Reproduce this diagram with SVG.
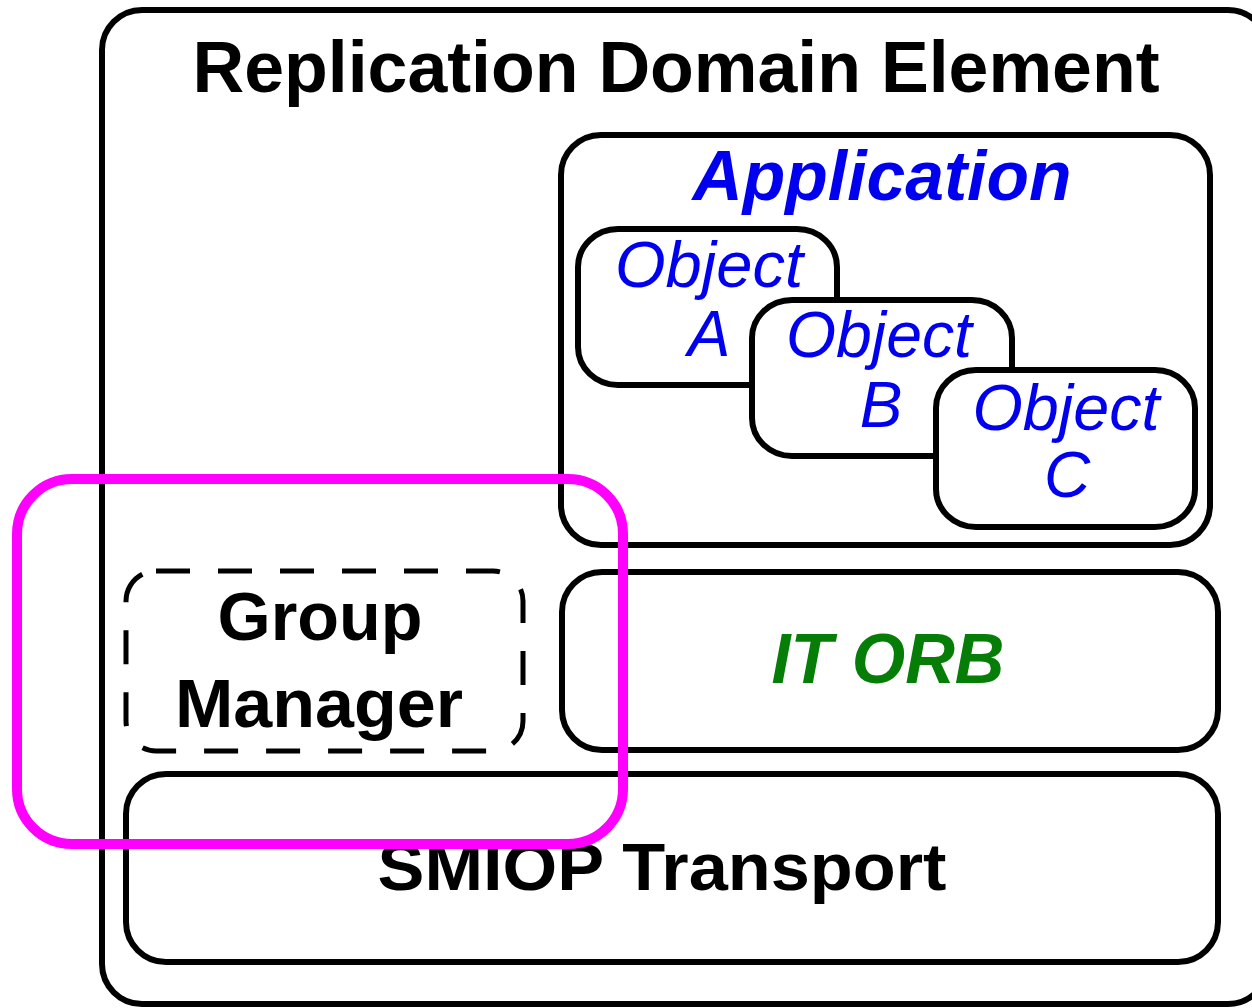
<svg xmlns="http://www.w3.org/2000/svg" width="1252" height="1008" viewBox="0 0 1252 1008">
  <style>
    .box { fill: #ffffff; stroke: #000000; stroke-width: 6; }
    .dash { fill: none; stroke: #000000; stroke-width: 5; stroke-dasharray: 34 28; }
    .hl { fill: none; stroke: #ff00ff; stroke-width: 10; }
    .title { font-family: "Liberation Sans", Arial, sans-serif; font-weight: bold; fill: #000000; text-anchor: middle; }
    .app { font-family: "Liberation Sans", Arial, sans-serif; font-weight: bold; font-style: italic; fill: #0000ee; text-anchor: middle; }
    .obj { font-family: "Liberation Sans", Arial, sans-serif; font-style: italic; fill: #0000ee; text-anchor: middle; font-size: 64px; }
    .orb { font-family: "Liberation Sans", Arial, sans-serif; font-weight: bold; font-style: italic; fill: #067d06; text-anchor: middle; }
  </style>

  <!-- enclosing element -->
  <g id="replication-domain-element">
    <rect class="box" x="102" y="10" width="1166" height="994" rx="40" ry="40" stroke-width="5"/>
    <text class="title" x="676" y="92" font-size="72" textLength="967" lengthAdjust="spacingAndGlyphs">Replication Domain Element</text>
  </g>

  <!-- application layer with its objects -->
  <g id="application">
    <rect class="box" x="561" y="135" width="649" height="410" rx="40" ry="40"/>
    <text class="app" x="882" y="200" font-size="70" textLength="379" lengthAdjust="spacingAndGlyphs">Application</text>
  </g>

  <g id="object-a">
    <rect class="box" x="578" y="229" width="259" height="156" rx="40" ry="38"/>
    <text class="obj" x="709" y="287" textLength="188" lengthAdjust="spacingAndGlyphs">Object</text>
    <text class="obj" x="709" y="356">A</text>
  </g>

  <g id="object-b">
    <rect class="box" x="752" y="300" width="260" height="156" rx="40" ry="38"/>
    <text class="obj" x="879" y="357" textLength="186" lengthAdjust="spacingAndGlyphs">Object</text>
    <text class="obj" x="881" y="427">B</text>
  </g>

  <g id="object-c">
    <rect class="box" x="936" y="370" width="259" height="157" rx="40" ry="38"/>
    <text class="obj" x="1066" y="430" textLength="187" lengthAdjust="spacingAndGlyphs">Object</text>
    <text class="obj" x="1067" y="497">C</text>
  </g>

  <!-- ORB layer -->
  <g id="it-orb">
    <rect class="box" x="562" y="572" width="656" height="178" rx="40" ry="40"/>
    <text class="orb" x="888" y="683" font-size="70" textLength="233" lengthAdjust="spacingAndGlyphs">IT ORB</text>
  </g>

  <!-- group manager (dashed outline) -->
  <g id="group-manager">
    <rect class="dash" x="126" y="571" width="397" height="180" rx="30" ry="30"/>
    <text class="title" x="320" y="640" font-size="68" textLength="205" lengthAdjust="spacingAndGlyphs">Group</text>
    <text class="title" x="319" y="727" font-size="68" textLength="288" lengthAdjust="spacingAndGlyphs">Manager</text>
  </g>

  <!-- transport layer -->
  <g id="smiop-transport">
    <rect class="box" x="126" y="774" width="1092" height="188" rx="40" ry="40"/>
    <text class="title" x="662" y="890" font-size="66" textLength="569" lengthAdjust="spacingAndGlyphs">SMIOP Transport</text>
  </g>

  <!-- highlight frame -->
  <g id="highlight">
    <rect class="hl" x="17" y="479" width="606" height="365" rx="55" ry="55"/>
  </g>

  <g id="connectors"></g>
</svg>
